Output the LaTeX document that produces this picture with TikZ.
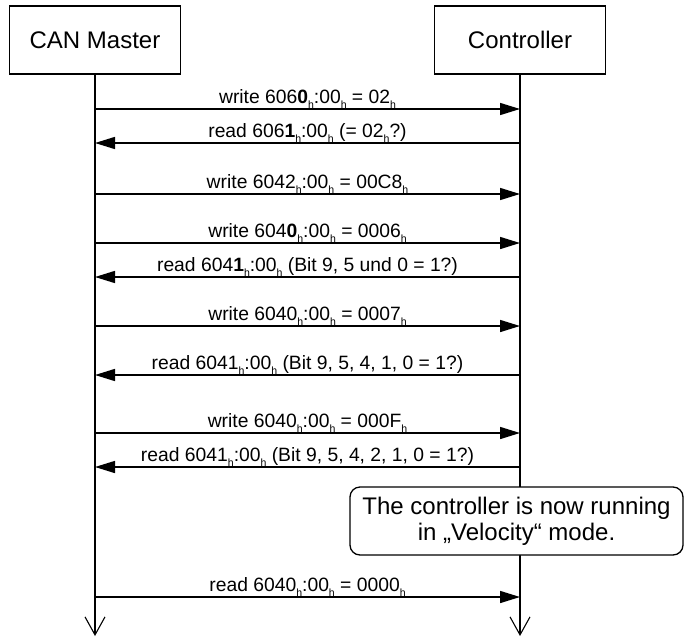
\documentclass[tikz,border=0pt]{standalone}
\usepackage{fontspec}
\setmainfont{Liberation Sans}
\usetikzlibrary{arrows.meta}
\newcommand\hsub{\raisebox{-0.3em}{\fontsize{10.5}{10.5}\selectfont h}}
\begin{document}
\begin{tikzpicture}[x=1pt,y=-1pt,
  actor/.style={draw,line width=1.3pt,minimum width=171pt,minimum height=68pt,inner sep=0pt,font=\fontsize{24}{28}\selectfont},
  life/.style={line width=1.3pt,-{Straight Barb[length=18pt,width=20pt,line width=1.1pt]}},
  msg/.style={line width=1.5pt,-{Triangle[length=20pt,width=12pt]}},
  lbl/.style={anchor=base,yshift=6pt,inner sep=0pt,font=\fontsize{19.3}{21}\selectfont},
  note/.style={draw,fill=white,line width=1.3pt,rounded corners=10pt,minimum width=333pt,minimum height=68pt,inner sep=0pt,align=center,font=\fontsize{24}{26}\selectfont}]
\useasboundingbox (0,0) rectangle (684,637);
\node[actor] (cm) at (95,40) {CAN Master};
\node[actor] (ct) at (520,40) {Controller};
\coordinate (cmE) at (95,636);
\coordinate (ctE) at (520,636);
\draw[life] (cm.south) -- (cmE);
\draw[life] (ct.south) -- (ctE);
% message endpoints
\foreach \i/\y in {1/109,2/143,3/194,4/243,5/277,6/326,7/375,8/433,9/467,10/597}{
  \coordinate (L\i) at (95,\y);
  \coordinate (R\i) at (520,\y);
}
\draw[msg] (L1) -- (R1) node[midway,lbl] {write 606\textbf{0}\hsub:00\hsub\ = 02\hsub};
\draw[msg] (R2) -- (L2) node[midway,lbl] {read 606\textbf{1}\hsub:00\hsub\ (= 02\hsub?)};
\draw[msg] (L3) -- (R3) node[midway,lbl] {write 6042\hsub:00\hsub\ = 00C8\hsub};
\draw[msg] (L4) -- (R4) node[midway,lbl] {write 604\textbf{0}\hsub:00\hsub\ = 0006\hsub};
\draw[msg] (R5) -- (L5) node[midway,lbl] {read 604\textbf{1}\hsub:00\hsub\ (Bit 9, 5 und 0 = 1?)};
\draw[msg] (L6) -- (R6) node[midway,lbl] {write 6040\hsub:00\hsub\ = 0007\hsub};
\draw[msg] (R7) -- (L7) node[midway,lbl] {read 6041\hsub:00\hsub\ (Bit 9, 5, 4, 1, 0 = 1?)};
\draw[msg] (L8) -- (R8) node[midway,lbl] {write 6040\hsub:00\hsub\ = 000F\hsub};
\draw[msg] (R9) -- (L9) node[midway,lbl] {read 6041\hsub:00\hsub\ (Bit 9, 5, 4, 2, 1, 0 = 1?)};
\node[note] (nt) at (516.5,521) {The controller is now running\\in „Velocity“ mode.};
\draw[msg] (L10) -- (R10) node[midway,lbl] {read 6040\hsub:00\hsub\ = 0000\hsub};
\end{tikzpicture}
\end{document}
